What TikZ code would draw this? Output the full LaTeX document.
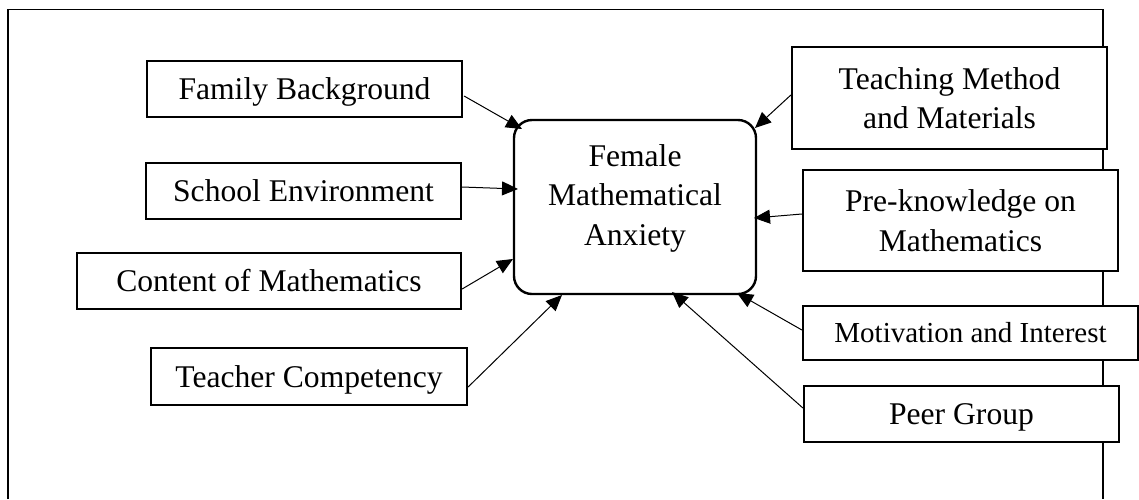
\documentclass[tikz,border=0pt]{standalone}
\usepackage{fontspec}
\setmainfont{Liberation Serif}
\usetikzlibrary{arrows.meta,calc}
\begin{document}
\begin{tikzpicture}[x=1pt,y=-1pt,
  fbox/.style={draw,fill=white,line width=2.2pt,inner sep=0pt,align=center,font=\fontsize{31.6}{39.5}\selectfont},
  one/.style={fbox,text height=21.6pt,text depth=0pt},
  arr/.style={line width=1pt,-{Triangle[length=16pt,width=14pt]}}]
\useasboundingbox (0,0) rectangle (1139,499);
\draw[line width=1.2pt] (8,499) -- (8,9.5) -- (1103,9.5) -- (1103,499);
% left boxes
\node[one,minimum width=315pt,minimum height=56pt] (fam) at (304.5,89) {Family Background};
\node[one,minimum width=315pt,minimum height=56pt] (sch) at (303.5,191) {School Environment};
\node[one,minimum width=384pt,minimum height=56pt] (con) at (269,281) {Content of Mathematics};
\node[one,minimum width=316pt,minimum height=57pt] (tea) at (309,376.5) {Teacher Competency};
% centre
\node[draw,line width=2.4pt,rounded corners=18pt,minimum width=242pt,minimum height=174pt] (c) at (635,207) {};
\node[align=center,inner sep=0pt,font=\fontsize{31.6}{39.5}\selectfont] (ct) at (635,198.2) {Female\\Mathematical\\Anxiety};
% right boxes
\node[fbox,minimum width=315pt,minimum height=102pt] (tm) at (949.5,98) {Teaching Method\\and Materials};
\node[fbox,minimum width=315pt,minimum height=101pt] (pk) at (960.5,220.5) {Pre-knowledge on\\Mathematics};
\node[one,minimum width=335pt,minimum height=54pt,font=\fontsize{29}{36}\selectfont,text height=19.8pt] (mi) at (970.5,333) {Motivation and Interest};
\node[one,minimum width=315pt,minimum height=56pt] (pg) at (961.5,414) {Peer Group};
% arrow end points on the centre box
\coordinate (eFam) at (522,129);
\coordinate (eSch) at (518,189);
\coordinate (eCon) at (513,259);
\coordinate (eTea) at (562,295);
\coordinate (eTm) at (755,128);
\coordinate (ePk) at (754,218);
\coordinate (eMi) at (737,293);
\coordinate (ePg) at (672,292);
\draw[arr] ($(fam.east)+(1,7)$) -- (eFam);
\draw[arr] ($(sch.east)+(0,-4)$) -- (eSch);
\draw[arr] ($(con.east)+(0,8)$) -- (eCon);
\draw[arr] ($(tea.east)+(0,10.5)$) -- (eTea);
\draw[arr] ($(tm.west)+(0,-3)$) -- (eTm);
\draw[arr] ($(pk.west)+(0,-6.5)$) -- (ePk);
\draw[arr] ($(mi.west)+(0,-3)$) -- (eMi);
\draw[arr] ($(pg.west)+(0,-6)$) -- (ePg);
\end{tikzpicture}
\end{document}
